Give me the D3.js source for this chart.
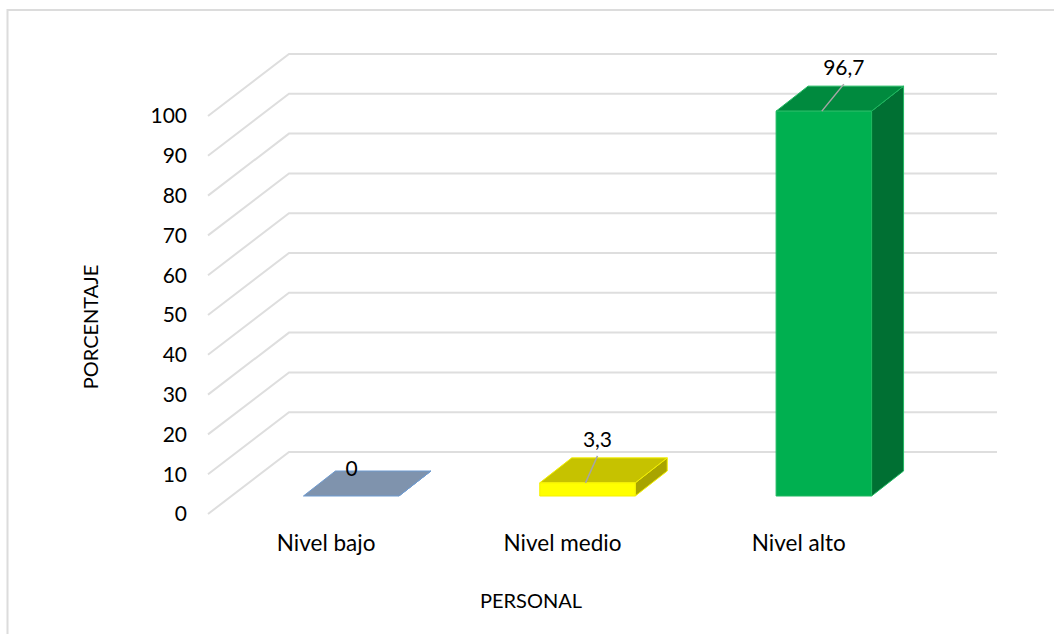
<!DOCTYPE html>
<html><head><meta charset="utf-8">
<style>html,body{margin:0;padding:0;background:#fff}svg{display:block}text{font-family:Lato,"Noto Sans",sans-serif;fill:#000}</style>
<script src="https://cdn.jsdelivr.net/npm/d3@7"></script>
</head><body><script>
const categories=["Nivel bajo","Nivel medio","Nivel alto"];
const values=[0,3.3,96.7];
const labels=["0","3,3","96,7"];
const yTicks=[0,10,20,30,40,50,60,70,80,90,100];
const frontColors=["#7f93ad","#ffff00","#00b050"];
const topColors=["#7f93ad","#c6c200","#008a3e"];
const sideColors=["#7f93ad","#a8a400","#007033"];
const edgeColors=["#6f9bd0","#f4f000","#1fb860"];

const W=1054,H=634,fs=21;
const svg=d3.select("body").append("svg").attr("width",W).attr("height",H);
svg.append("path").attr("d","M7.5,634V10H1054").attr("fill","none").attr("stroke","#dcdcdc").attr("stroke-width",2);

const y=d3.scaleLinear().domain([0,100]).range([514,116]);
const wallDx=81,wallDy=-62,floorX0=208,wallX1=997;
const g=svg.append("g");
g.selectAll("path").data(yTicks).join("path")
 .attr("fill","none").attr("stroke","#dedede").attr("stroke-width",2)
 .attr("d",d=>`M${floorX0},${y(d)}L${floorX0+wallDx},${y(d)+wallDy}H${wallX1}`);
svg.append("g").selectAll("text").data(yTicks).join("text")
 .attr("x",187).attr("y",d=>y(d)).attr("dy","0.35em").attr("text-anchor","end")
 .attr("font-size",fs).text(d=>d);

const x=d3.scaleBand().domain(categories).range([233,942]).paddingInner(.596).paddingOuter(.298);
const barBase=18, dDx=32, dDy=-25;
const yB=v=>y(v)-barBase;
const bars=svg.append("g").selectAll("g").data(categories).join("g");
bars.each(function(c,i){
  const s=d3.select(this),x0=x(c),x1=x0+x.bandwidth(),cx=(x0+x1)/2,t=yB(values[i]),b=yB(0),e=edgeColors[i];
  const poly=(pts,f)=>s.append("polygon").attr("points",pts.map(p=>p.join(",")).join(" ")).attr("fill",f).attr("stroke",e).attr("stroke-width",1).attr("stroke-linejoin","round");
  poly([[x1,t],[x1+dDx,t+dDy],[x1+dDx,b+dDy],[x1,b]],sideColors[i]);
  poly([[x0,t],[x0+dDx,t+dDy],[x1+dDx,t+dDy],[x1,t]],topColors[i]);
  if(values[i]>0) poly([[x0,t],[x1,t],[x1,b],[x0,b]],frontColors[i]);
  const lx=i==1?10:20;
  if(values[i]>0){
    s.append("line").attr("x1",cx-2).attr("y1",t).attr("x2",cx+lx).attr("y2",t+dDy-2)
     .attr("stroke","#a6a6a6").attr("stroke-width",1.5);
  }
  s.append("text").attr("x",i==0?351.5:cx+lx).attr("y",i==0?b+dDy-2:t+dDy-18).attr("dy","0.35em").attr("text-anchor","middle").attr("font-size",fs).text(labels[i]);
  s.append("text").attr("x",cx-25).attr("y",543).attr("dy","0.35em").attr("text-anchor","middle").attr("font-size",22.5).text(c);
});
svg.append("text").attr("x",531).attr("y",601).attr("dy","0.35em").attr("text-anchor","middle").attr("font-size",20).text("PERSONAL");
svg.append("text").attr("transform","translate(91,327) rotate(-90)").attr("dy","0.35em").attr("text-anchor","middle").attr("font-size",20).text("PORCENTAJE");
</script></body></html>
